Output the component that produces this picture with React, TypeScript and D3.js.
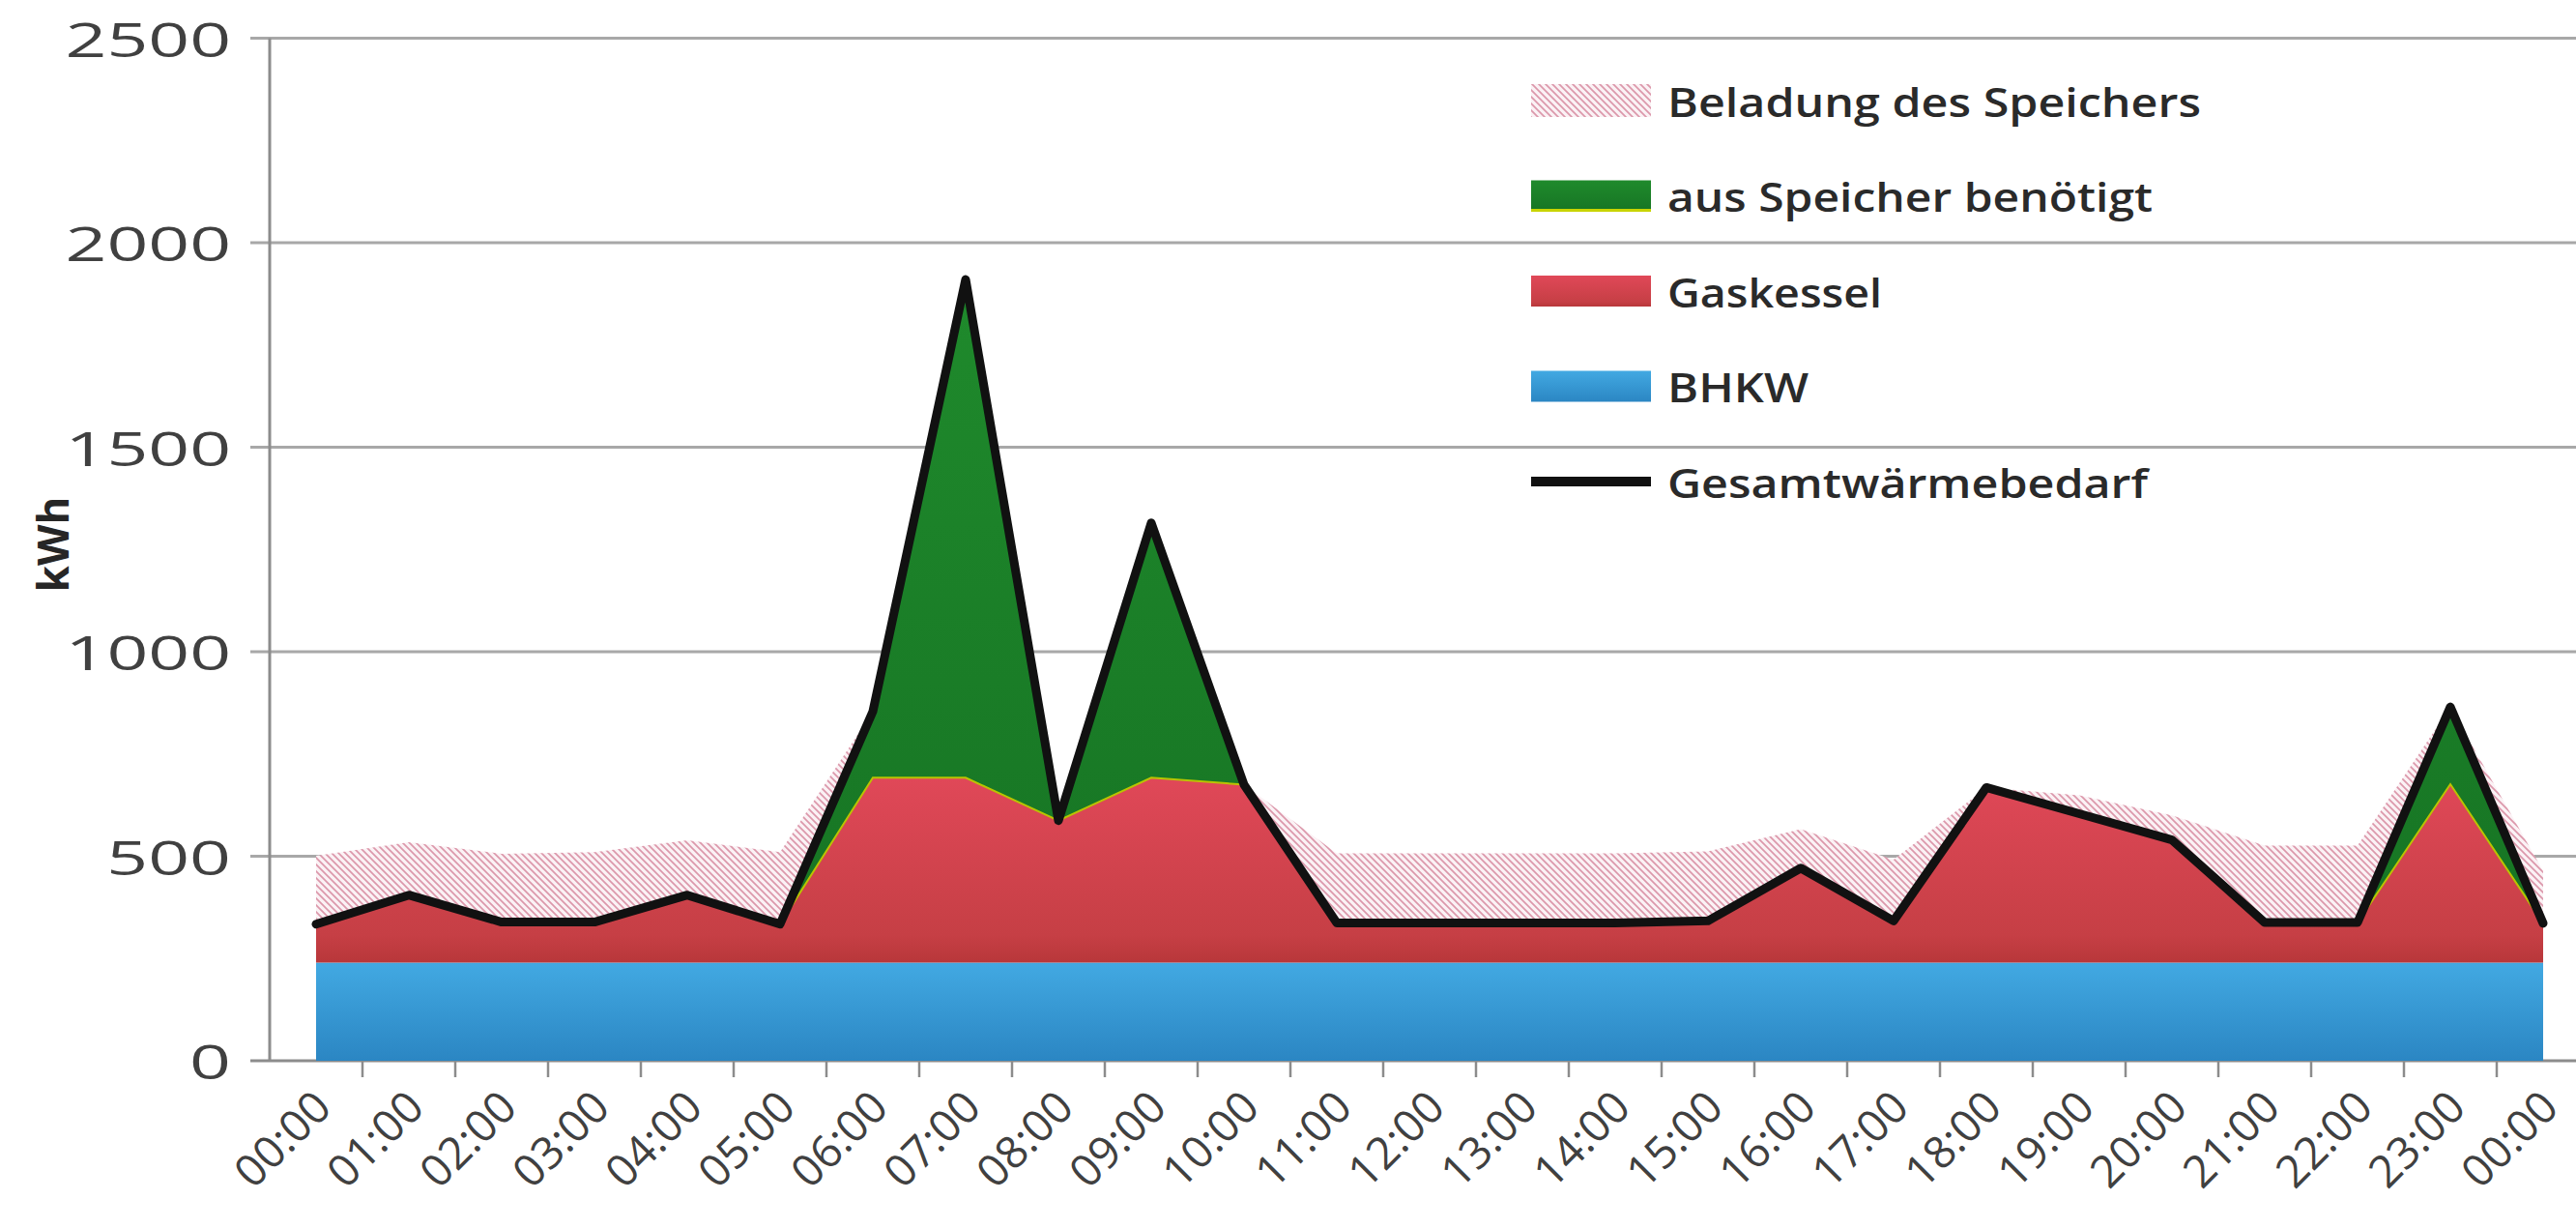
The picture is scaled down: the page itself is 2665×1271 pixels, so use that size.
import React from 'react';
import * as d3 from 'd3';

const hours = ['00:00','01:00','02:00','03:00','04:00','05:00','06:00','07:00','08:00','09:00','10:00','11:00','12:00','13:00','14:00','15:00','16:00','17:00','18:00','19:00','20:00','21:00','22:00','23:00','00:00'];
const bhkw = [240,240,240,240,240,240,240,240,240,240,240,240,240,240,240,240,240,240,240,240,240,240,240,240,240];
const gaskessel = [94,165,99,99,165,94,452,452,347,452,435,97,97,97,97,102,231,102,428,364,300,98,98,436,96];
const ausSpeicher = [0,0,0,0,0,0,162,1218,0,623,0,0,0,0,0,0,0,0,0,0,0,0,0,189,0];
const beladung = [167,129,167,171,134,176,0,0,0,0,0,170,170,170,170,170,95,150,0,45,60,188,188,0,128];
const gesamt = [334,405,339,339,405,334,854,1910,587,1315,675,337,337,337,337,342,471,342,668,604,540,338,338,865,336];
const yTicks = [0, 500, 1000, 1500, 2000, 2500];
const legendLabels = ['Beladung des Speichers', 'aus Speicher benötigt', 'Gaskessel', 'BHKW', 'Gesamtwärmebedarf'];

const W = 2665, H = 1271;
const LEFT = 279, BAND = 96, Y0 = 1097, YTOP = 39.5;

export default function App() {
  const x = d3.scaleBand<number>().domain(hours.map((_, i) => i)).range([LEFT, LEFT + BAND * hours.length]).paddingInner(0).paddingOuter(0);
  const cx = (i: number) => (x(i) as number) + x.bandwidth() / 2;
  const y = d3.scaleLinear().domain([0, 2500]).range([Y0, YTOP]);

  const rows = hours.map((h, i) => ({ i, bhkw: bhkw[i], gas: gaskessel[i], sp: ausSpeicher[i], bel: beladung[i] }));
  const keys = ['bhkw', 'gas', 'sp', 'bel'];
  const stacked = d3.stack<any>().keys(keys)(rows);
  const area = d3.area<any>().x((d: any) => cx(d.data.i)).y0((d: any) => y(d[0])).y1((d: any) => y(d[1]));
  const line = d3.line<number>().x((_, i) => cx(i)).y((v) => y(v));

  const fills: Record<string, string> = { bhkw: 'url(#gBlue)', gas: 'url(#gRed)', sp: 'url(#gGreen)', bel: 'url(#hatch)' };

  const legendX = 1584, legendTextX = 1725;
  const legendY = (k: number) => 104 + 98.5 * k;
  const legendLen = [552, 502, 222, 146, 497];

  return (
    <svg width={W} height={H} viewBox={`0 0 ${W} ${H}`} style={{ position: 'absolute', left: 0, top: 0, background: '#fff' }}>
      <defs>
        <linearGradient id="gBlue" x1="0" y1="0" x2="0" y2="1">
          <stop offset="0" stopColor="#42a9e2" />
          <stop offset="1" stopColor="#2b86c3" />
        </linearGradient>
        <linearGradient id="gRed" x1="0" y1="0" x2="0" y2="1">
          <stop offset="0" stopColor="#e04858" />
          <stop offset="0.85" stopColor="#c63f45" />
          <stop offset="1" stopColor="#b8373a" />
        </linearGradient>
        <linearGradient id="gGreen" x1="0" y1="0" x2="0" y2="1">
          <stop offset="0" stopColor="#1f8a2c" />
          <stop offset="1" stopColor="#177524" />
        </linearGradient>
        <pattern id="hatch" patternUnits="userSpaceOnUse" width="7" height="7">
          <rect width="7" height="7" fill="#fbf2f5" />
          <path d="M-1,-1 L8,8 M-1,6 L1,8 M6,-1 L8,1" stroke="#dc98ab" strokeWidth="1.7" />
        </pattern>
      </defs>

      {/* gridlines */}
      {yTicks.map((t) => (
        <line key={'g' + t} x1={LEFT - 20} x2={W} y1={y(t)} y2={y(t)} stroke={t === 0 ? '#8c8c8c' : '#a8a8a8'} strokeWidth={3} />
      ))}
      {/* y axis */}
      <line x1={LEFT} x2={LEFT} y1={YTOP} y2={Y0} stroke="#8c8c8c" strokeWidth={3} />
      {/* x ticks */}
      {hours.map((_, i) => (
        <line key={'xt' + i} x1={(x(i) as number) + BAND} x2={(x(i) as number) + BAND} y1={Y0} y2={Y0 + 17} stroke="#8c8c8c" strokeWidth={2.5} />
      ))}

      {/* areas */}
      <g>
        {stacked.map((s: any) => (
          <path key={s.key} d={area(s) as string} fill={fills[s.key]}
            stroke={s.key === 'sp' ? '#b9c400' : 'none'} strokeWidth={s.key === 'sp' ? 2 : 0} />
        ))}
        <path d={line(gesamt) as string} fill="none" stroke="#111" strokeWidth={9} strokeLinejoin="round" strokeLinecap="round" />
      </g>

      {/* y labels */}
      {yTicks.map((t) => (
        <text key={'yl' + t} transform={`translate(239,${y(t)}) scale(1.5,1)`} textAnchor="end" dominantBaseline="central"
          fontFamily="'Open Sans', sans-serif" fontSize={50} fill="#404040">{t}</text>
      ))}
      {/* y axis title */}
      <text transform={`translate(54,563) rotate(-90)`} textAnchor="middle" dominantBaseline="central"
        fontFamily="'Open Sans', sans-serif" fontWeight={700} fontSize={44} fill="#262626">kWh</text>

      {/* x labels */}
      {hours.map((h, i) => (
        <text key={'xl' + i} transform={`translate(${cx(i) + 18},1148) rotate(-45)`} textAnchor="end"
          fontFamily="'Open Sans', sans-serif" fontSize={46} fill="#404040">{h}</text>
      ))}

      {/* legend */}
      <rect x={legendX} y={legendY(0) - 17} width={124} height={34} fill="url(#hatch)" />
      <rect x={legendX} y={legendY(1) - 16} width={124} height={32} fill="url(#gGreen)" />
      <line x1={legendX} x2={legendX + 124} y1={legendY(1) + 15} y2={legendY(1) + 15} stroke="#c8d400" strokeWidth={3} />
      <rect x={legendX} y={legendY(2) - 16} width={124} height={32} fill="url(#gRed)" />
      <rect x={legendX} y={legendY(3) - 16} width={124} height={32} fill="url(#gBlue)" />
      <line x1={legendX} x2={legendX + 124} y1={legendY(4)} y2={legendY(4)} stroke="#111" strokeWidth={10} />
      {legendLabels.map((l, k) => (
        <text key={'lg' + k} x={legendTextX} y={legendY(k)} dominantBaseline="central" textLength={legendLen[k]} lengthAdjust="spacingAndGlyphs"
          fontFamily="'Open Sans', sans-serif" fontWeight={600} fontSize={42} fill="#2a2a2a">{l}</text>
      ))}
    </svg>
  );
}
